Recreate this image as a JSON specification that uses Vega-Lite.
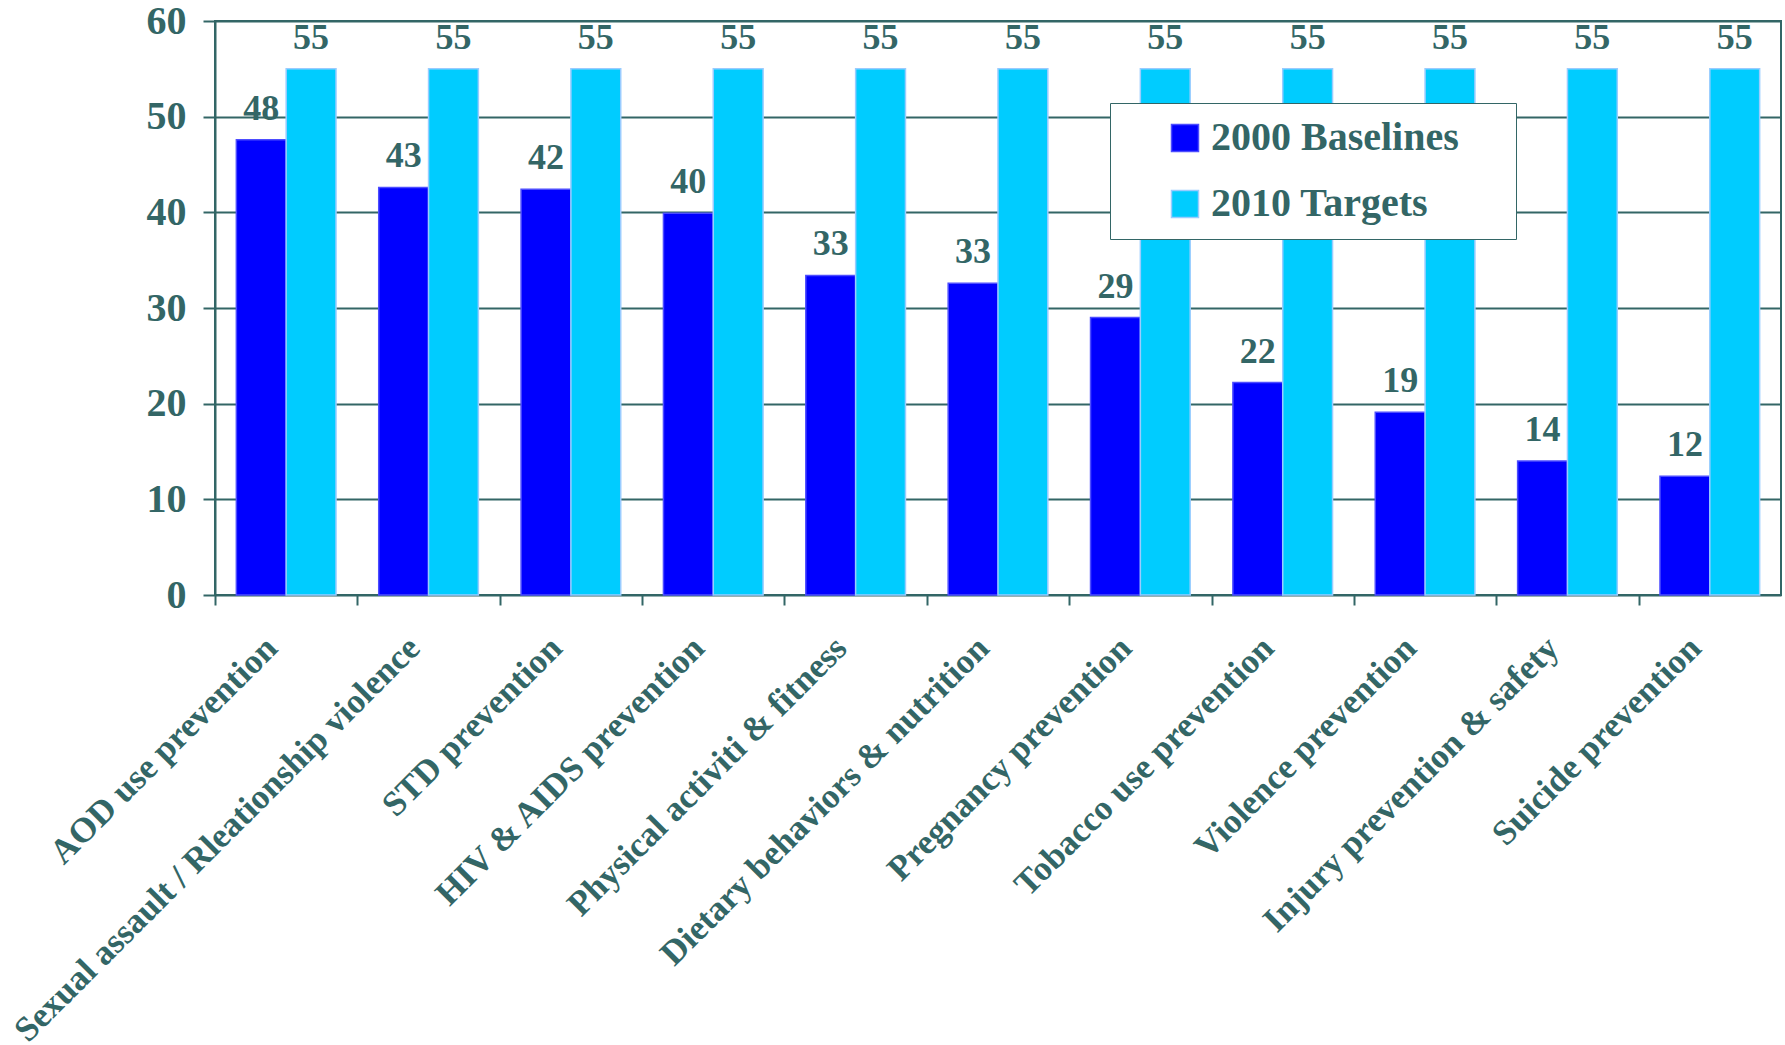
{
  "$schema": "https://vega.github.io/schema/vega-lite/v6.json",
  "width": 1566,
  "height": 574,
  "autosize": "none",
  "padding": {"left": 215, "top": 21, "right": 4, "bottom": 450},
  "background": "white",
  "config": {
    "view": {"stroke": "#336666", "strokeWidth": 2},
    "font": "Liberation Serif"
  },
  "data": {
    "values": [
      {"category": "AOD use prevention", "series": "2000 Baselines", "value": 47.6},
      {"category": "AOD use prevention", "series": "2010 Targets", "value": 55},
      {"category": "Sexual assault / Rleationship violence", "series": "2000 Baselines", "value": 42.6},
      {"category": "Sexual assault / Rleationship violence", "series": "2010 Targets", "value": 55},
      {"category": "STD prevention", "series": "2000 Baselines", "value": 42.4},
      {"category": "STD prevention", "series": "2010 Targets", "value": 55},
      {"category": "HIV & AIDS prevention", "series": "2000 Baselines", "value": 39.9},
      {"category": "HIV & AIDS prevention", "series": "2010 Targets", "value": 55},
      {"category": "Physical activiti & fitness", "series": "2000 Baselines", "value": 33.4},
      {"category": "Physical activiti & fitness", "series": "2010 Targets", "value": 55},
      {"category": "Dietary behaviors & nutrition", "series": "2000 Baselines", "value": 32.6},
      {"category": "Dietary behaviors & nutrition", "series": "2010 Targets", "value": 55},
      {"category": "Pregnancy prevention", "series": "2000 Baselines", "value": 29.0},
      {"category": "Pregnancy prevention", "series": "2010 Targets", "value": 55},
      {"category": "Tobacco use prevention", "series": "2000 Baselines", "value": 22.2},
      {"category": "Tobacco use prevention", "series": "2010 Targets", "value": 55},
      {"category": "Violence prevention", "series": "2000 Baselines", "value": 19.1},
      {"category": "Violence prevention", "series": "2010 Targets", "value": 55},
      {"category": "Injury prevention & safety", "series": "2000 Baselines", "value": 14.0},
      {"category": "Injury prevention & safety", "series": "2010 Targets", "value": 55},
      {"category": "Suicide prevention", "series": "2000 Baselines", "value": 12.4},
      {"category": "Suicide prevention", "series": "2010 Targets", "value": 55}
    ]
  },
  "encoding": {
    "x": {
      "field": "category",
      "type": "nominal",
      "sort": null,
      "scale": {"paddingInner": 0.3, "paddingOuter": 0.15},
      "axis": {
        "title": null,
        "domain": false,
        "labelAngle": -45,
        "labelAlign": "right",
        "labelBaseline": "top",
        "labelFont": "Liberation Serif",
        "labelFontWeight": "bold",
        "labelFontSize": 35,
        "labelColor": "#336666",
        "labelLimit": 1000,
        "labelPadding": 25,
        "labelOffset": 44,
        "tickOffset": -71.2,
        "tickSize": 10,
        "tickWidth": 2,
        "tickColor": "#336666",
        "labelOverlap": false
      }
    },
    "xOffset": {"field": "series", "type": "nominal", "sort": ["2000 Baselines", "2010 Targets"]},
    "y": {
      "field": "value",
      "type": "quantitative",
      "scale": {"domain": [0, 60], "nice": false},
      "axis": {
        "title": null,
        "values": [0, 10, 20, 30, 40, 50, 60],
        "grid": true,
        "gridColor": "#336666",
        "gridWidth": 2,
        "domainColor": "#336666",
        "domainWidth": 2,
        "tickColor": "#336666",
        "tickWidth": 2,
        "tickSize": 12,
        "labelFont": "Liberation Serif",
        "labelFontWeight": "bold",
        "labelFontSize": 40,
        "labelColor": "#336666",
        "labelPadding": 17
      }
    }
  },
  "layer": [
    {
      "mark": {"type": "bar", "strokeWidth": 1.5},
      "encoding": {
        "color": {
          "field": "series",
          "type": "nominal",
          "sort": ["2000 Baselines", "2010 Targets"],
          "scale": {"domain": ["2000 Baselines", "2010 Targets"], "range": ["#0000ff", "#00ccff"]},
          "legend": {
            "title": " ",
            "titleOrient": "right",
            "titlePadding": 42,
            "titleFontSize": 40,
            "orient": "none",
            "legendX": 895,
            "legendY": 82,
            "padding": 15,
            "symbolOffset": 40,
            "strokeColor": "#336666",
            "fillColor": "white",
            "symbolType": "square",
            "symbolSize": 729,
            "symbolStrokeWidth": 1.5,
            "labelFont": "Liberation Serif",
            "labelFontWeight": "bold",
            "labelFontSize": 40,
            "labelColor": "#336666",
            "labelLimit": 500,
            "labelOffset": 6,
            "rowPadding": 26
          }
        },
        "stroke": {
          "field": "series",
          "type": "nominal",
          "scale": {"domain": ["2000 Baselines", "2010 Targets"], "range": ["#4d4dff", "#99ccff"]},
          "legend": null
        }
      }
    },
    {
      "mark": {
        "type": "text",
        "baseline": "alphabetic",
        "dy": -20,
        "font": "Liberation Serif",
        "fontWeight": "bold",
        "fontSize": 36,
        "color": "#336666"
      },
      "encoding": {
        "text": {"field": "value", "type": "quantitative", "format": ".0f"}
      }
    }
  ]
}
